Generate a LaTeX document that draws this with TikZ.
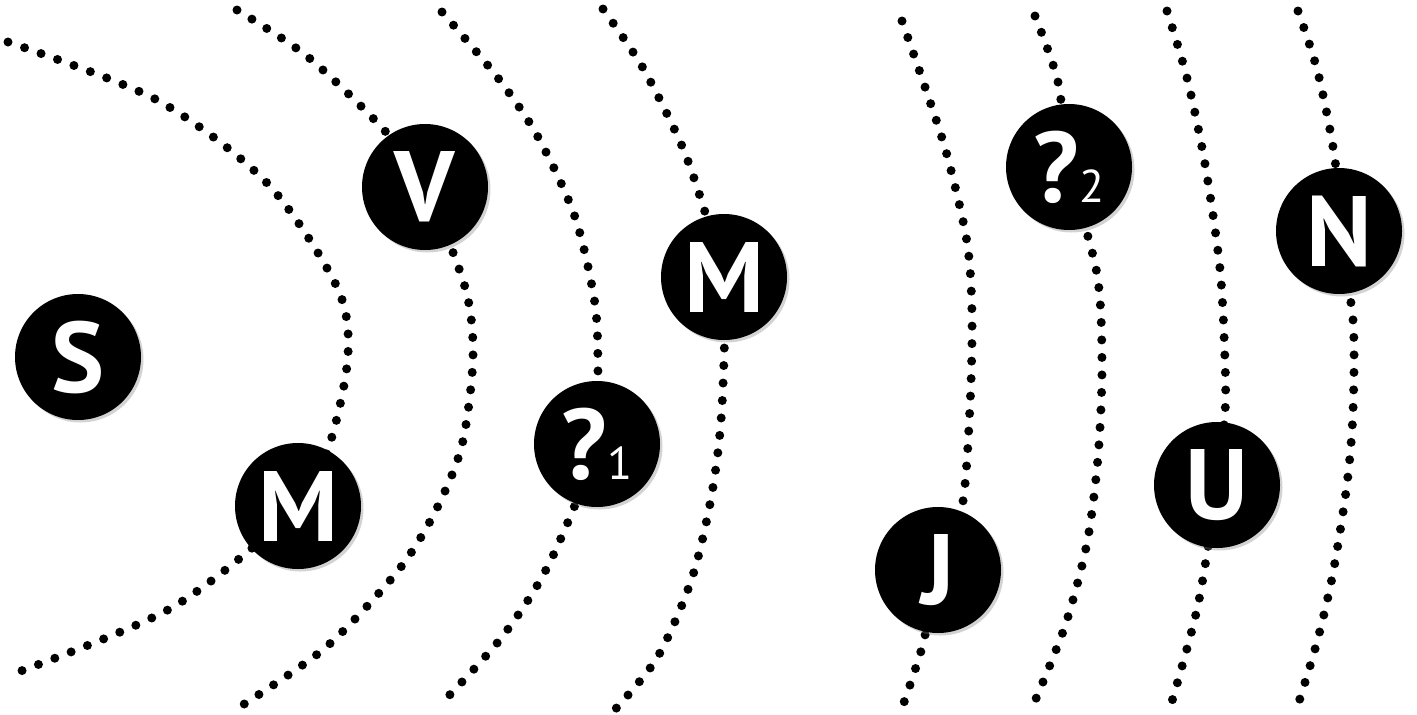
\documentclass[tikz,border=0pt]{standalone}
\usepackage{fontspec}
\setmainfont{PT Sans}
\usetikzlibrary{backgrounds, shadows}

\newcommand\pidx[1]{{\fontsize{46}{46}\selectfont\mdseries #1}}

\begin{document}
\begin{tikzpicture}[
  x=1pt, y=-1pt,
  planet/.style ={circle, fill=black, minimum size=126pt, inner sep=0pt, text=white,
                  font=\fontsize{100}{102}\selectfont\bfseries,
                  drop shadow={shadow xshift=2.5pt, shadow yshift=-2.5pt, opacity=.35}},
  orbit/.style  ={draw=black, line width=9pt, line cap=round, dash pattern=on 0pt off 17.5pt}
]
\useasboundingbox (0,0) rectangle (1417,715);

% ---- sun and planets ----
\node[planet] (sun) at (78,357)   {S};
\node[planet] (mer) at (298,506)  {M};
\node[planet] (ven) at (425,187)  {V};
\node[planet] (qa)  at (597,444)  {?\pidx{1}};
\node[planet] (mar) at (724,277)  {M};
\node[planet] (jup) at (938,570)  {J};
\node[planet] (qb)  at (1069,167) {?\pidx{2}};
\node[planet] (ura) at (1217,485) {U};
\node[planet] (nep) at (1339,231) {N};

% ---- orbits (behind the planets) ----
\begin{scope}[on background layer]
  \clip (0,0) rectangle (1417,715);
  \draw[orbit] plot[smooth] coordinates {(8,42) (157,100) (267,183) (337,287) (348,355) (330,443) (mer) (173,607) (10,675)};
  \draw[orbit] plot[smooth] coordinates {(237,10) (308,57) (385,131) (ven) (465,287) (473,357) (462,445) (435,512) (397,572) (325,648) (238,708)};
  \draw[orbit] plot[smooth] coordinates {(442,12) (498,78) (538,137) (575,217) (595,304) (598,374) (qa) (550,562) (502,637) (440,705)};
  \draw[orbit] plot[smooth] coordinates {(603,9) (643,68) (682,146) (705,212) (mar) (722,406) (712,493) (692,578) (657,658) (610,715)};
  \draw[orbit] plot[smooth] coordinates {(902,21) (925,87) (947,155) (967,242) (972,315) (970,406) (962,507) (jup) (923,644) (902,708)};
  \draw[orbit] plot[smooth] coordinates {(1035,16) (1058,82) (qb) (1097,274) (1102,365) (1098,457) (1087,543) (1065,626) (1032,708)};
  \draw[orbit] plot[smooth] coordinates {(1167,11) (1187,78) (1205,164) (1220,269) (1225,361) (1225,413) (ura) (1198,605) (1170,708)};
  \draw[orbit] plot[smooth] coordinates {(1298,11) (1318,73) (1335,160) (nep) (1353,320) (1353,411) (1347,484) (1333,573) (1317,642) (1297,708)};
\end{scope}

\end{tikzpicture}
\end{document}
